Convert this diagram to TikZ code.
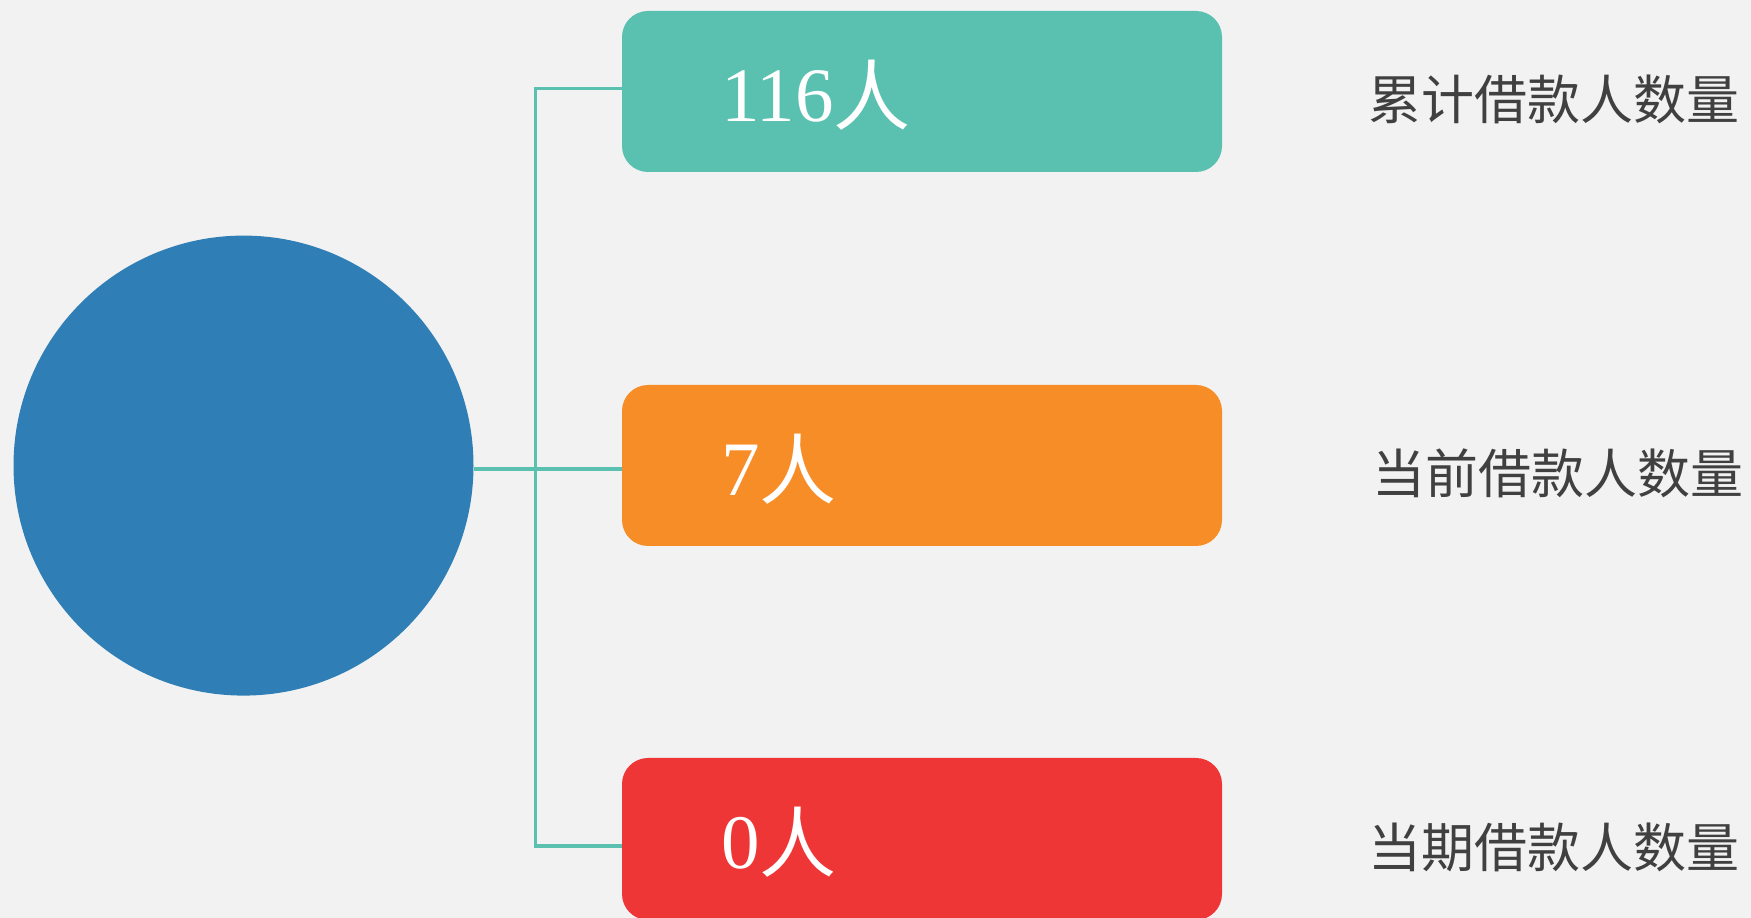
\documentclass[tikz,border=0pt]{standalone}
\usepackage{fontspec}
\setmainfont{Liberation Serif}
\newfontfamily\cjk{Noto Sans CJK SC}
\definecolor{bgc}{HTML}{F2F2F2}
\definecolor{tealc}{HTML}{5AC1B0}
\definecolor{orangec}{HTML}{F78D27}
\definecolor{redc}{HTML}{EF3636}
\definecolor{bluec}{HTML}{2F7FB6}
\definecolor{txtc}{HTML}{404040}
\begin{document}
\begin{tikzpicture}[x=1pt,y=1pt,
  card/.style={rectangle, rounded corners=26pt, minimum width=600pt, minimum height=161pt, inner sep=0pt, draw=none},
  num/.style={anchor=base west, inner sep=0pt, text=white, font=\fontsize{77}{77}\selectfont},
  lab/.style={anchor=base west, inner sep=0pt, text=txtc, font=\cjk\fontsize{53}{53}\selectfont},
  bus/.style={draw=tealc, line width=3.4pt}]
\useasboundingbox (0,0) rectangle (1751,918);
\fill[bgc] (0,0) rectangle (1751,918);
% hub circle
\node[circle, fill=bluec, minimum size=460pt, inner sep=0pt] (hub) at (243.5,452.4) {};
% cards
\node[card, fill=tealc] (c1) at (922,826.5) {};
\node[card, fill=orangec] (c2) at (922,452.5) {};
\node[card, fill=redc, minimum height=162pt] (c3) at (922,79) {};
% bus coordinates
\coordinate (bt) at (535.5,829.5);
\coordinate (bm) at (535.5,449);
\coordinate (bb) at (535.5,72);
% connectors
\draw[bus] (hub.east |- bm) -- (c2.west |- bm);
\draw[bus] (c1.west |- bt) -- (bt) -- (bb) -- (c3.west |- bb);
% numbers
\node[num] (n1) at (721,796) {116{\cjk\raisebox{-3pt}{人}}};
\node[num] (n2) at (721,422) {7{\cjk\raisebox{-3pt}{人}}};
\node[num] (n3) at (721,49) {0{\cjk\raisebox{-3pt}{人}}};
% labels
\node[lab] (l1) at (1368,798) {累计借款人数量};
\node[lab] (l2) at (1372,424) {当前借款人数量};
\node[lab] (l3) at (1368,50) {当期借款人数量};
\end{tikzpicture}
\end{document}
